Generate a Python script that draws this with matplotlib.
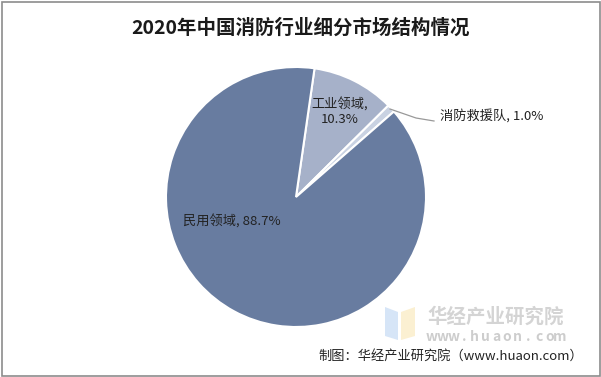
import matplotlib
matplotlib.use("Agg")
import matplotlib.pyplot as plt
from matplotlib.patches import Rectangle, Polygon

plt.rcParams['font.family'] = ['Noto Sans CJK SC', 'DejaVu Sans']

title = "2020年中国消防行业细分市场结构情况"
categories = ["工业领域", "消防救援队", "民用领域"]
values = [10.3, 1.0, 88.7]
colors = ["#a6b1c9", "#c9d2e2", "#687ca0"]
source = "制图：华经产业研究院（www.huaon.com）"
watermark = "华经产业研究院"
watermark_url = "www.huaon.com"

W, H = 601, 377
fig = plt.figure(figsize=(W / 100, H / 100), dpi=100)

# border
fig.patches.append(Rectangle((1.5 / W, 1.5 / H), 1 - 3 / W, 1 - 3 / H, transform=fig.transFigure,
                             fill=False, edgecolor="#8c8c8c", linewidth=1.2))

cx, cy, r = 296, 197, 130
ax = fig.add_axes([(cx - r) / W, (H - cy - r) / H, 2 * r / W, 2 * r / H])
wedges, _ = ax.pie(values, colors=colors, startangle=81.8, counterclock=False,
                   wedgeprops=dict(edgecolor="white", linewidth=1.5), radius=1)
ax.set_xlim(-1, 1)
ax.set_ylim(-1, 1)
ax.set_aspect("auto")
ax.axis("off")

def px(x, y):
    return ((x - (cx - r)) / (2 * r) * 2 - 1, 1 - (y - (cy - r)) / (2 * r) * 2)

# labels
x, y = px(340, 112)
ax.text(x, y, f"{categories[0]},\n{values[0]}%", ha="center", va="center", fontsize=9.5,
        color="#222222", linespacing=1.1)
x, y = px(232, 222)
ax.text(x, y, f"{categories[2]}, {values[2]}%", ha="center", va="center", fontsize=9.5, color="#222222")
x, y = px(440, 116)
ax.text(x, y, f"{categories[1]}, {values[1]}%", ha="left", va="center", fontsize=9.5, color="#222222")
x0, y0 = px(390, 109)
x1, y1 = px(416, 118)
x2, y2 = px(434, 121)
ax.plot([x0, x1, x2], [y0, y1, y2], color="#999999", linewidth=0.9, clip_on=False)

fig.text(0.5, 1 - 28 / H, title, ha="center", va="center", fontsize=14, fontweight="bold",
         color="#1a1a1a")

# watermark
fig.patches.append(Polygon([(385 / W, 1 - 307 / H), (398 / W, 1 - 312 / H), (398 / W, 1 - 340 / H),
                            (385 / W, 1 - 336 / H)], closed=True, transform=fig.transFigure,
                           facecolor="#d6e5f7", edgecolor="none"))
fig.patches.append(Polygon([(401 / W, 1 - 312 / H), (415 / W, 1 - 307 / H), (415 / W, 1 - 336 / H),
                            (401 / W, 1 - 340 / H)], closed=True, transform=fig.transFigure,
                           facecolor="#fbf0d2", edgecolor="none"))
fig.text(496 / W, 1 - 317 / H, watermark, ha="center", va="center", fontsize=14,
         fontweight="bold", color="#d4d4d4", zorder=5)
n = len(watermark_url)
x_start, x_end = 432, 560
for i, ch in enumerate(watermark_url):
    xc = x_start + (x_end - x_start) * i / (n - 1)
    fig.text(xc / W, 1 - 337 / H, ch, ha="center", va="center", fontsize=10,
             fontweight="bold", color="#cdcdcd", zorder=5)

fig.text(583 / W, 1 - 356 / H, source, ha="right", va="center", fontsize=9.5, color="#222222")

fig.savefig("out.png", dpi=100)
